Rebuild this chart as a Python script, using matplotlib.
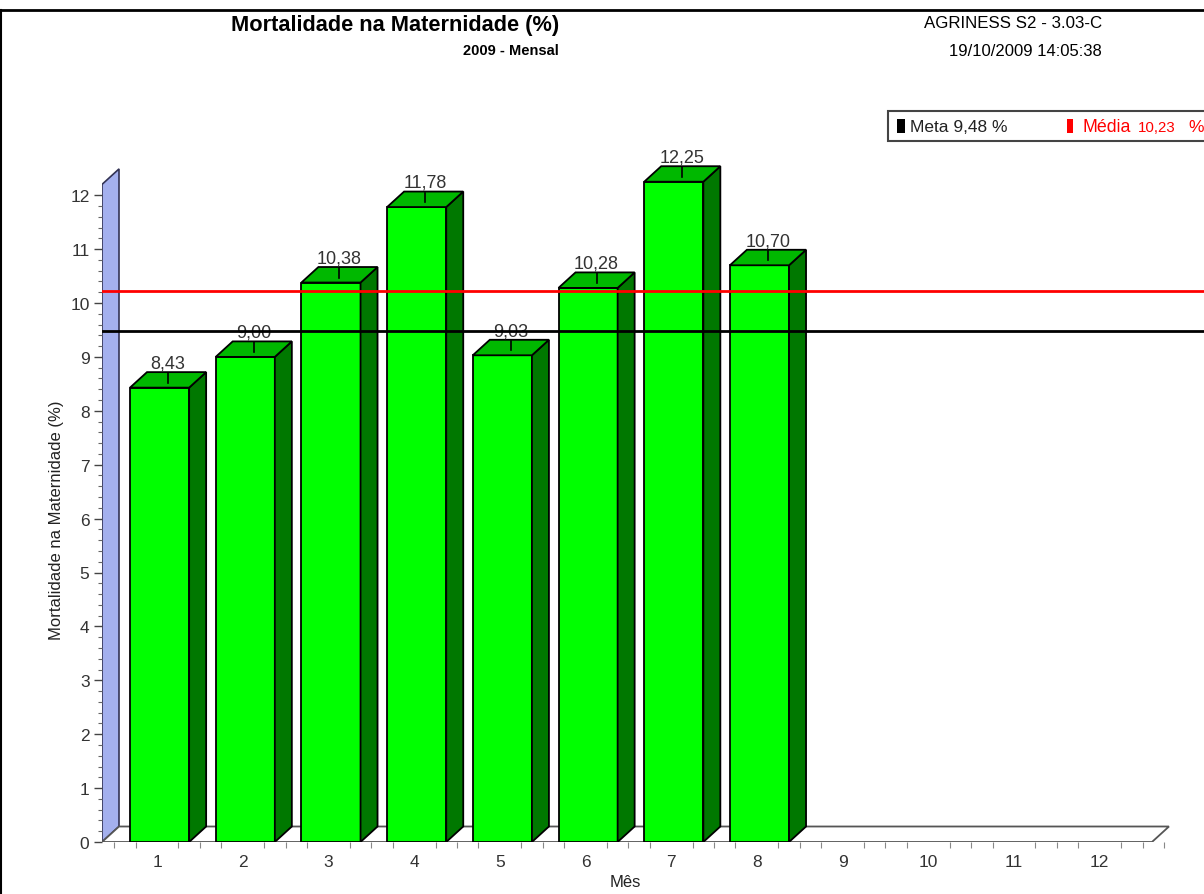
import numpy as np
import matplotlib.pyplot as plt
from matplotlib.patches import Polygon, Rectangle
from matplotlib.ticker import FixedLocator

plt.rcParams['font.family'] = ['Liberation Sans', 'DejaVu Sans']

meses = [1, 2, 3, 4, 5, 6, 7, 8]
mortalidade = [8.43, 9.00, 10.38, 11.78, 9.03, 10.28, 12.25, 10.70]
rotulos = ['8,43', '9,00', '10,38', '11,78', '9,03', '10,28', '12,25', '10,70']
meta = 9.48
media = 10.23
ticks_x = list(range(1, 13))

W, H = 1204, 895
fig = plt.figure(figsize=(W / 100, H / 100), dpi=100)

def px(x, y):
    # pixel position (from top-left) -> figure fraction
    return x / W, 1 - y / H

# axes: left edge on the wall, bottom at zero
ax_l, ax_r, ax_b, ax_t = 102, 1204, 843, 100
ax = fig.add_axes([ax_l / W, 1 - ax_b / H, (ax_r - ax_l) / W, (ax_b - ax_t) / H])
upx = 85.7   # pixels per month
vpx = 53.9   # pixels per percent
x0 = 1 - (157 - ax_l) / upx
ax.set_xlim(x0, x0 + (ax_r - ax_l) / upx)
ax.set_ylim(0, (ax_b - ax_t) / vpx)

# 3D depth in data units
ddx = 17 / upx
ddy = 15.5 / vpx
bw = 0.69
off = 0.03
x_fim = 12.61
topo_parede = 12.2

# wall on the left
parede = Polygon([(x0, 0), (x0, topo_parede), (x0 + ddx, topo_parede + ddy), (x0 + ddx, ddy)],
                 closed=True, facecolor='#a4b0ee', edgecolor='#333355', lw=1.2, zorder=1)
ax.add_patch(parede)

# floor
piso = Polygon([(x0, 0), (x_fim, 0), (x_fim + ddx, ddy), (x0 + ddx, ddy)],
               closed=True, facecolor='white', edgecolor='#555555', lw=1.3, zorder=1)
ax.add_patch(piso)

for m, v, r in zip(meses, mortalidade, rotulos):
    xl = m + off - bw / 2
    xr = m + off + bw / 2
    ax.add_patch(Rectangle((xl, 0), bw, v, facecolor='#00ff00', edgecolor='black', lw=1.3, zorder=3))
    ax.add_patch(Polygon([(xr, 0), (xr + ddx, ddy), (xr + ddx, v + ddy), (xr, v)], closed=True,
                         facecolor='#007800', edgecolor='black', lw=1.3, zorder=3))
    ax.add_patch(Polygon([(xl, v), (xl + ddx, v + ddy), (xr + ddx, v + ddy), (xr, v)], closed=True,
                         facecolor='#00b800', edgecolor='black', lw=1.3, zorder=3))
    xc = m + off + ddx / 2
    ax.plot([xc, xc], [v + 0.09, v + 0.27], color='black', lw=1.2, zorder=4)
    ax.text(xc, v + 0.3, r, ha='center', va='bottom', fontsize=13, color='#333333', zorder=4)

# target and average lines
ax.axhline(meta, color='black', lw=2, zorder=5)
ax.axhline(media, color='red', lw=2, zorder=5)

for s in ax.spines.values():
    s.set_visible(False)
ax.set_yticks(range(0, 13))
ax.yaxis.set_minor_locator(FixedLocator(np.arange(0, 12.01, 0.2)))
ax.set_xticks(ticks_x)
ax.xaxis.set_minor_locator(FixedLocator([t for t in np.arange(0.5, 12.76, 0.25) if t % 1 != 0]))
ax.tick_params(axis='y', which='major', length=6, width=1, color='#444444', labelsize=12.5, pad=3, labelcolor='#333333')
ax.tick_params(axis='y', which='minor', length=3, width=0.8, color='#666666')
ax.tick_params(axis='x', which='major', length=0, labelsize=12.5, pad=9, labelcolor='#333333')
ax.tick_params(axis='x', which='minor', length=4, width=0.8, color='#888888')
ax.set_facecolor('none')

fig.text(*px(57, 520), 'Mortalidade na Maternidade (%)', rotation=90, ha='center', va='center',
         fontsize=12, color='#222222')
fig.text(*px(625, 883), 'Mês', ha='center', va='center', fontsize=12, color='#222222')

# header
fig.text(*px(395, 26), 'Mortalidade na Maternidade (%)', ha='center', va='center',
         fontsize=15.7, fontweight='bold')
fig.text(*px(559, 51), '2009 - Mensal', ha='right', va='center', fontsize=10.5, fontweight='bold')
fig.text(*px(1102, 24), 'AGRINESS S2 - 3.03-C', ha='right', va='center', fontsize=12.2)
fig.text(*px(1102, 51), '19/10/2009 14:05:38', ha='right', va='center', fontsize=12)

# frame lines
fig.add_artist(plt.Line2D([0, 1], [1 - 11 / H, 1 - 11 / H], transform=fig.transFigure, color='black', lw=2))
fig.add_artist(plt.Line2D([1 / W, 1 / W], [0, 1 - 11 / H], transform=fig.transFigure, color='black', lw=1.5))

# legend box
fig.add_artist(Rectangle(px(888, 142), 330 / W, 30 / H, transform=fig.transFigure,
                         facecolor='white', edgecolor='#444444', lw=1.5))
fig.add_artist(Rectangle(px(897, 134), 8 / W, 14 / H, transform=fig.transFigure, facecolor='black', lw=0))
fig.text(*px(910, 127), 'Meta 9,48 %', ha='left', va='center', fontsize=12.5, color='#222222')
fig.add_artist(Rectangle(px(1067, 134), 6 / W, 14 / H, transform=fig.transFigure, facecolor='red', lw=0))
fig.text(*px(1082, 127), 'Média', ha='left', va='center', fontsize=12.8, color='red')
fig.text(*px(1138, 128), '10,23', ha='left', va='center', fontsize=10.8, color='red')
fig.text(*px(1188, 127), '%', ha='left', va='center', fontsize=12.5, color='red')

fig.savefig('out.png', dpi=100)
